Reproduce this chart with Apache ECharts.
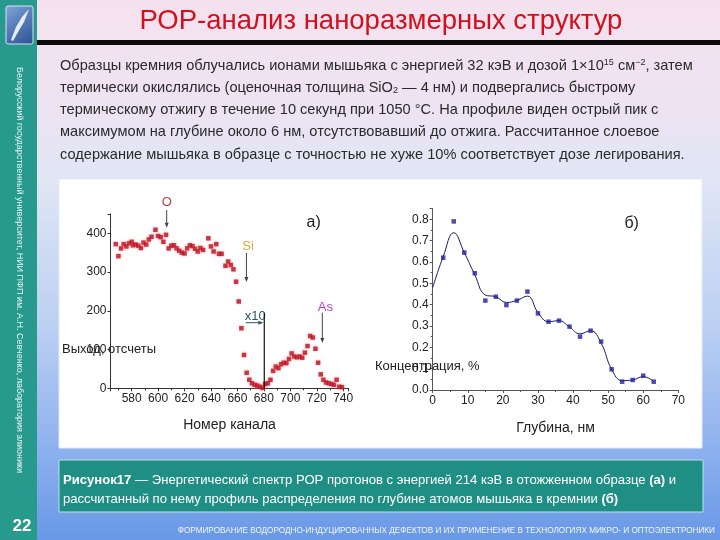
<!DOCTYPE html>
<html><head><meta charset="utf-8">
<script src="https://cdn.jsdelivr.net/npm/echarts@6/dist/echarts.min.js"></script>
<style>html,body{margin:0;padding:0;background:#fff;}#c{width:720px;height:540px;}</style>
</head><body><div id="c"></div>
<script>
// ---------- data ----------
const titleText = 'РОР-анализ наноразмерных структур';
const channelsA = [568,570,572,574,576,578,580,581,583,585,587,589,591,593,595,598,600,602,604,606,608,610,612,614,616,618,620,622,624,626,628,630,632,634,638,640,642,644,646,648,651,653,655,657,659,661,663,665,667,669,671,673,675,677,679,681,683,685,687,689,691,693,695,697,699,701,703,705,707,709,711,713,715,717,719,721,723,725,727,729,731,733,735,737,739];
const countsA = [372,341,361,372,366,374,378,369,371,368,362,376,371,384,391,409,393,390,378,396,361,368,369,361,355,350,348,361,369,367,360,353,362,357,387,366,353,372,347,347,316,327,318,307,275,224,155,86,40,22,13,9,7,4,1,11,13,22,45,56,52,62,66,65,76,90,82,80,82,79,92,109,135,131,102,66,36,22,15,13,11,9,22,4,3];
const depthB = [3,6,9,12,15,18,21,24,27,30,33,36,39,42,45,48,51,54,57,60,63];
const concB = [0.62,0.79,0.644,0.547,0.419,0.437,0.398,0.419,0.461,0.359,0.32,0.325,0.297,0.25,0.278,0.227,0.097,0.039,0.047,0.067,0.039];
const fitDepthB = [0,3,6,9,12,15,18,21,24,27,30,33,36,39,42,45,48,51,54,57,60,63];
const fitConcB = [0.48,0.625,0.737,0.644,0.54,0.445,0.437,0.41,0.42,0.44,0.363,0.32,0.325,0.295,0.263,0.278,0.22,0.097,0.044,0.047,0.0625,0.04];

const yNameA = 'Выход, отсчеты';
const xNameA = 'Номер канала';
const yNameB = 'Концентрация, %';
const xNameB = 'Глубина, нм';

const bodyLines = [
  'Образцы кремния облучались ионами мышьяка с энергией 32 кэВ и дозой 1×10{sup|15} см{sup|−2}, затем',
  'термически окислялись (оценочная толщина SiO{sub|2} — 4 нм) и подвергались быстрому',
  'термическому отжигу в течение 10 секунд при 1050 °С. На профиле виден острый пик с',
  'максимумом на глубине около 6 нм, отсутствовавший до отжига. Рассчитанное слоевое',
  'содержание мышьяка в образце с точностью не хуже 10% соответствует дозе легирования.'
];
const captionLines = [
  '{b|Рисунок17} — Энергетический спектр РОР протонов с энергией 214 кэВ в отожженном образце {b|(а)} и',
  'рассчитанный по нему профиль распределения по глубине атомов мышьяка в кремнии {b|(б)}'
];
const sideText = 'Белорусский государственный университет, НИИ ПФП им. А.Н. Севченко, лаборатория элионики';
const footerText = 'ФОРМИРОВАНИЕ ВОДОРОДНО-ИНДУЦИРОВАННЫХ ДЕФЕКТОВ И ИХ ПРИМЕНЕНИЕ В ТЕХНОЛОГИЯХ МИКРО- И ОПТОЭЛЕКТРОНИКИ';
const pageNo = '22';

// ---------- chart ----------
const F = '"Liberation Sans", Arial, sans-serif';
const chart = echarts.init(document.getElementById('c'), null, {width:720, height:540});
const AX = '#333';
const lab = {fontSize:12, color:'#222', fontFamily:F};
function lin(x2, y2, stops){ return {type:'linear', x:0, y:0, x2:x2, y2:y2, colorStops:stops}; }

chart.setOption({
  animation:false,
  backgroundColor:'transparent',
  textStyle:{fontFamily:F},
  grid:[
    {left:110.5, top:213.9, width:238, height:174.4},
    {left:432.7, top:208.6, width:245.6, height:181.4}
  ],
  xAxis:[
    {type:'value', gridIndex:0, min:564, max:744, splitNumber:9,
     axisLine:{show:true, onZero:false, lineStyle:{color:AX}},
     axisTick:{show:true, length:3, lineStyle:{color:AX}},
     minorTick:{show:true, splitNumber:2, length:2, lineStyle:{color:AX}},
     splitLine:{show:false},
     axisLabel:Object.assign({margin:4, formatter:v=> (v%20===0? String(v):'')}, lab),
     name:xNameA, nameLocation:'middle', nameGap:30,
     nameTextStyle:{fontSize:14, color:'#222', fontFamily:F}},
    {type:'value', gridIndex:1, min:0, max:70, interval:10,
     axisLine:{show:true, onZero:false, lineStyle:{color:'#555'}},
     axisTick:{show:true, length:3, lineStyle:{color:'#555'}},
     minorTick:{show:true, splitNumber:2, length:2, lineStyle:{color:'#555'}},
     splitLine:{show:false},
     axisLabel:Object.assign({margin:5}, lab),
     name:xNameB, nameLocation:'middle', nameGap:31,
     nameTextStyle:{fontSize:14, color:'#222', fontFamily:F}}
  ],
  yAxis:[
    {type:'value', gridIndex:0, min:0, max:450, interval:100,
     axisLine:{show:true, onZero:false, lineStyle:{color:AX}},
     axisTick:{show:true, length:3, lineStyle:{color:AX}},
     splitLine:{show:false},
     axisLabel:Object.assign({margin:4, formatter:v=> (v%100===0? String(v):'')}, lab)},
    {type:'value', gridIndex:1, min:0, max:0.85, interval:0.1,
     axisLine:{show:true, onZero:false, lineStyle:{color:'#555'}},
     axisTick:{show:true, length:3, lineStyle:{color:'#555'}},
     minorTick:{show:true, splitNumber:2, length:2, lineStyle:{color:'#555'}},
     splitLine:{show:false},
     axisLabel:Object.assign({margin:4, formatter:v=> (Math.abs(v*10-Math.round(v*10))<1e-6? v.toFixed(1):'')}, lab)}
  ],
  series:[
    {type:'scatter', xAxisIndex:0, yAxisIndex:0, symbol:'rect', symbolSize:4.5,
     data:channelsA.map((c,i)=>[c,countsA[i]]),
     itemStyle:{color:'#b8121e', shadowColor:'rgba(255,90,110,0.55)', shadowBlur:3}, z:3},
    {type:'line', xAxisIndex:1, yAxisIndex:1, smooth:0.45, showSymbol:false,
     data:fitDepthB.map((d,i)=>[d,fitConcB[i]]),
     lineStyle:{color:'#1b1b5c', width:1}, z:2},
    {type:'scatter', xAxisIndex:1, yAxisIndex:1, symbol:'rect', symbolSize:4.5,
     data:depthB.map((d,i)=>[d,concB[i]]),
     itemStyle:{color:'#1f1fa0'}, z:3}
  ]
});

// ---------- slide decoration + annotations ----------
function P(g, x, y){ return chart.convertToPixel({gridIndex:g}, [x,y]); }
function vArrow(g, x, y1, y2, color){
  const a = P(g,x,y1), b = P(g,x,y2);
  return [
    {type:'line', z:10, shape:{x1:a[0],y1:a[1],x2:b[0],y2:b[1]-3}, style:{stroke:color, lineWidth:1}},
    {type:'polygon', z:10, shape:{points:[[b[0]-2,b[1]-5],[b[0]+2,b[1]-5],[b[0],b[1]]]}, style:{fill:color}}
  ];
}
function txt(x, y, text, size, color, extra){
  return {type:'text', z:10, x:x, y:y, style:Object.assign({text:text, fontSize:size, fill:color, fontFamily:F, align:'center', verticalAlign:'middle'}, extra||{})};
}
function dtxt(g, dx, dy, text, size, color){
  const p = P(g, dx, dy); return txt(p[0], p[1], text, size, color);
}

const G = [];
// background
G.push({type:'rect', z:-20, shape:{x:0,y:0,width:720,height:540},
  style:{fill:lin(0,1,[
    {offset:0,color:'#f5e1ee'},{offset:0.18,color:'#eee3f2'},{offset:0.33,color:'#e1e6f5'},
    {offset:0.6,color:'#bcd0f2'},{offset:0.82,color:'#90b2ee'},{offset:1,color:'#6898e6'}])}});
// sidebar
G.push({type:'rect', z:-19, shape:{x:0,y:0,width:37,height:540}, style:{fill:'#27998d'}});
// logo
G.push({type:'rect', z:-18, shape:{x:6,y:6,width:27,height:38,r:2},
  style:{fill:lin(1,1,[{offset:0,color:'#7fa4d8'},{offset:1,color:'#2c4f92'}]), stroke:'#d8e2f0', lineWidth:1}});
G.push({type:'polygon', z:-17, shape:{points:[[11,40],[16,27],[22,17],[29,9],[24,22],[18,32],[13,41]]}, style:{fill:'#e6edf6'}});
// black rule
G.push({type:'rect', z:-18, shape:{x:37,y:40,width:683,height:5}, style:{fill:'#0a0a0a'}});
// title
G.push(txt(381, 21, titleText, 27.5, '#d20f1d'));
// body
const bodyY = [66, 88, 110, 132, 155];
bodyLines.forEach((t,i)=>{
  G.push({type:'text', z:10, x:60, y:bodyY[i], style:{text:t, fontSize:14.6, fill:'#2a2a2a', fontFamily:F, verticalAlign:'middle',
    rich:{sup:{fontSize:9, verticalAlign:'top', fill:'#2a2a2a', lineHeight:10}, sub:{fontSize:9, verticalAlign:'bottom', fill:'#2a2a2a', lineHeight:10}}}});
});
// white panel
G.push({type:'rect', z:-15, shape:{x:59,y:179,width:643,height:269}, style:{fill:'#ffffff', stroke:'#e4ebf7', lineWidth:1}});
// caption box
G.push({type:'rect', z:-15, shape:{x:59,y:460,width:644,height:52}, style:{fill:'#1f8f86', stroke:'#b9e3de', lineWidth:1}});
captionLines.forEach((t,i)=>{
  G.push({type:'text', z:10, x:63, y:[480,499][i], style:{text:t, fontSize:13.1, fill:'#ffffff', fontFamily:F, verticalAlign:'middle',
    rich:{b:{fontWeight:'bold', fontSize:13.1, fill:'#ffffff'}}}});
});
// footer
G.push({type:'text', z:10, x:715, y:531, style:{text:footerText, fontSize:8.2, fill:'#f2f6ff', fontFamily:F, align:'right', verticalAlign:'middle'}});
// sidebar texts
G.push({type:'text', z:10, x:19, y:270, rotation:-Math.PI/2, style:{text:sideText, fontSize:9, fill:'#e9f6f3', fontFamily:F, align:'center', verticalAlign:'middle'}});
G.push({type:'text', z:10, x:22, y:526, style:{text:pageNo, fontSize:17, fontWeight:'bold', fill:'#ffffff', fontFamily:F, align:'center', verticalAlign:'middle'}});

// chart a annotations
G.push(dtxt(0, 606.5, 479, 'O', 13, '#b8403c'));
G.push(...vArrow(0, 606.5, 460, 414, '#444'));
G.push(dtxt(0, 668, 365, 'Si', 13, '#e2a63c'));
G.push(...vArrow(0, 666.8, 349, 274, '#444'));
G.push(dtxt(0, 726.5, 208, 'As', 13, '#c33cc3'));
G.push(...vArrow(0, 724.2, 195, 117, '#444'));
G.push(dtxt(0, 673.5, 185, 'x10', 13, '#2b5a66'));
(function(){
  const a = P(0, 680.3, 195), b = P(0, 680.3, 0);
  G.push({type:'line', z:10, shape:{x1:a[0],y1:a[1],x2:b[0],y2:b[1]}, style:{stroke:'#111', lineWidth:1.2}});
  const c = P(0, 666.2, 169.3), d = P(0, 679.6, 169.3);
  G.push({type:'line', z:10, shape:{x1:c[0],y1:c[1],x2:d[0]-3,y2:d[1]}, style:{stroke:'#2b5a66', lineWidth:1}});
  G.push({type:'polygon', z:10, shape:{points:[[d[0]-5,d[1]-2],[d[0]-5,d[1]+2],[d[0],d[1]]]}, style:{fill:'#2b5a66'}});
})();
G.push(dtxt(0, 717.6, 426.6, 'а)', 16, '#222'));
G.push(txt(62, 349, yNameA, 13, '#222', {align:'left'}));
// chart b annotations
G.push(dtxt(1, 56.7, 0.781, 'б)', 16, '#222'));
G.push(txt(375, 366, yNameB, 13, '#222', {align:'left'}));

chart.setOption({graphic: G});
</script>
</body></html>
